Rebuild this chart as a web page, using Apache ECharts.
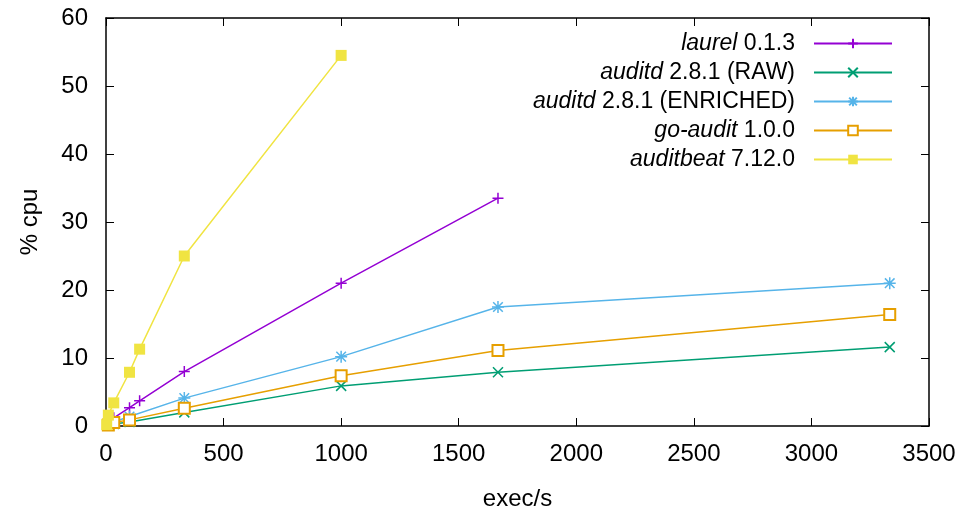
<!DOCTYPE html>
<html>
<head>
<meta charset="utf-8">
<script src="https://cdn.jsdelivr.net/npm/echarts@6/dist/echarts.min.js"></script>
<style>html,body{margin:0;padding:0;background:#fff}#c{width:959px;height:514px}</style>
</head>
<body>
<div id="c"></div>
<script>
// ---- data ----
const xTicks = [0, 500, 1000, 1500, 2000, 2500, 3000, 3500];
const yTicks = [0, 10, 20, 30, 40, 50, 60];

const laurelName = ['laurel', '0.1.3'];
const laurelX = [10, 33, 100, 143, 333, 1000, 1667];
const laurelY = [0.5, 1.2, 2.7, 3.7, 8.0, 21.0, 33.5];

const rawName = ['auditd', '2.8.1 (RAW)'];
const rawX = [10, 33, 100, 333, 1000, 1667, 3333];
const rawY = [0.1, 0.3, 0.6, 2.0, 5.9, 7.9, 11.6];

const enrName = ['auditd', '2.8.1 (ENRICHED)'];
const enrX = [10, 33, 100, 333, 1000, 1667, 3333];
const enrY = [0.2, 0.6, 1.4, 4.1, 10.2, 17.5, 21.0];

const goName = ['go-audit', '1.0.0'];
const goX = [10, 33, 100, 333, 1000, 1667, 3333];
const goY = [0.15, 0.5, 0.9, 2.6, 7.4, 11.1, 16.4];

const beatName = ['auditbeat', '7.12.0'];
const beatX = [3, 10, 33, 100, 143, 333, 1000];
const beatY = [0.2, 1.6, 3.4, 7.9, 11.3, 25.0, 54.5];

// ---- chart ----
const FONT = 'Liberation Sans';
const pair = (xs, ys) => xs.map((x, i) => [x, ys[i]]);
const PLUS = 'path://M5,0L5,10M0,5L10,5';
const CROSS = 'path://M0,0L10,10M0,10L10,0';
const STAR = 'path://M5,0L5,10M0,5L10,5M1,1L9,9M1,9L9,1';

function mk(nm, xs, ys, color, symbol, size, filled) {
  return {
    name: nm.join(' '),
    type: 'line',
    data: pair(xs, ys),
    symbol: symbol,
    symbolSize: size,
    showAllSymbol: true,
    lineStyle: { color: color, width: 1.5 },
    itemStyle: filled ? { color: color, borderWidth: 0 } :
      { color: color, borderColor: color, borderWidth: 1.5 },
    emphasis: { disabled: true },
    z: 3
  };
}

const series = [
  mk(laurelName, laurelX, laurelY, '#9400d3', PLUS, 11, false),
  mk(rawName, rawX, rawY, '#009e73', CROSS, 10, false),
  mk(enrName, enrX, enrY, '#56b4e9', STAR, 12, false),
  mk(goName, goX, goY, '#e69f00', 'emptyRect', 11, false),
  mk(beatName, beatX, beatY, '#f0e442', 'rect', 11, true)
];
const names = [laurelName, rawName, enrName, goName, beatName];

const axisLine = { show: true, onZero: false, lineStyle: { color: '#000', width: 1.5 } };
const tickStyle = { show: true, inside: true, length: 8, lineStyle: { color: '#000', width: 1 } };
const plain = v => String(v);

const chart = echarts.init(document.getElementById('c'), null, { renderer: 'canvas' });
chart.setOption({
  animation: false,
  backgroundColor: '#fff',
  grid: { left: 106, right: 30, top: 18, bottom: 88, containLabel: false, outerBoundsMode: 'none' },
  xAxis: [{
    type: 'value', min: xTicks[0], max: xTicks[xTicks.length - 1], interval: xTicks[1] - xTicks[0],
    name: 'exec/s', nameLocation: 'middle', nameGap: 61,
    nameTextStyle: { fontFamily: FONT, fontSize: 24, color: '#000' },
    axisLine: axisLine, axisTick: tickStyle, splitLine: { show: false },
    axisLabel: { fontFamily: FONT, fontSize: 24, color: '#000', margin: 16, formatter: plain }
  }, {
    type: 'value', position: 'top', min: xTicks[0], max: xTicks[xTicks.length - 1], interval: xTicks[1] - xTicks[0],
    axisLine: axisLine, axisTick: tickStyle, splitLine: { show: false }, axisLabel: { show: false }
  }],
  yAxis: [{
    type: 'value', min: yTicks[0], max: yTicks[yTicks.length - 1], interval: yTicks[1] - yTicks[0],
    name: '% cpu', nameLocation: 'middle', nameGap: 64,
    nameTextStyle: { fontFamily: FONT, fontSize: 24, color: '#000' },
    axisLine: axisLine, axisTick: tickStyle, splitLine: { show: false },
    axisLabel: { fontFamily: FONT, fontSize: 24, color: '#000', margin: 18, formatter: plain }
  }, {
    type: 'value', position: 'right', min: yTicks[0], max: yTicks[yTicks.length - 1], interval: yTicks[1] - yTicks[0],
    axisLine: axisLine, axisTick: tickStyle, splitLine: { show: false }, axisLabel: { show: false }
  }],
  legend: {
    orient: 'vertical', right: 61, top: 27, align: 'right',
    itemWidth: 78, itemHeight: 12, itemGap: 6,
    formatter: function (n) {
      const s = names.find(a => a.join(' ') === n);
      return '{i|' + s[0] + '} {n|' + s[1] + '}';
    },
    textStyle: {
      padding: [0, 14, 0, 0],
      fontFamily: FONT, fontSize: 23,
      rich: {
        i: { fontFamily: FONT, fontSize: 23, fontStyle: 'italic', color: '#000', lineHeight: 23 },
        n: { fontFamily: FONT, fontSize: 23, color: '#000', lineHeight: 23 }
      }
    }
  },
  series: series
});
</script>
</body>
</html>
